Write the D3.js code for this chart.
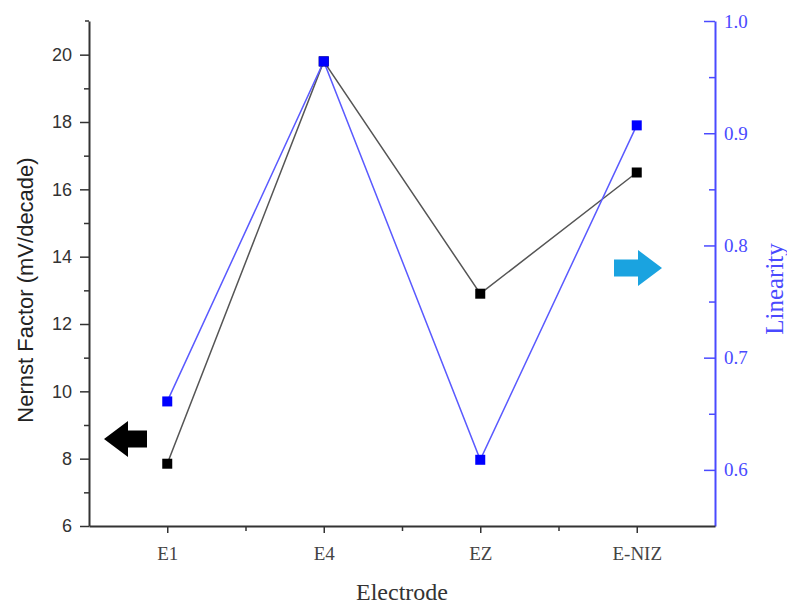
<!DOCTYPE html>
<html>
<head>
<meta charset="utf-8">
<script src="https://cdn.jsdelivr.net/npm/d3@7/dist/d3.min.js"></script>
<style>
  body { margin: 0; background: #fff; }
  svg { display: block; }
</style>
</head>
<body>
<script>
var electrodes = ['E1', 'E4', 'EZ', 'E-NIZ']
var nernst = [7.85, 19.8, 12.9, 16.5]
var linearity = [0.661, 0.964, 0.609, 0.907]
var leftTicks = [6, 8, 10, 12, 14, 16, 18, 20]
var rightTicks = [0.6, 0.7, 0.8, 0.9, 1.0]

var W = 787, H = 604
var plotL = 89, plotR = 715, plotT = 21, plotB = 526

var svg = d3.select('body').append('svg')
    .attr('width', W)
    .attr('height', H)

var x = d3.scalePoint().domain(electrodes).range([plotL, plotR]).padding(0.5)
var yL = d3.scaleLinear().domain([6, 21]).range([plotB, plotT])
var yR = d3.scaleLinear().domain([0.55, 1.0]).range([plotB, plotT])

var blue = '#4a4aff'
var axisGrey = '#333'
var sans = 'Liberation Sans, Arial, sans-serif'
var serif = 'Liberation Serif, Times New Roman, serif'

// left axis, minor ticks first
svg.append('g')
  .attr('transform', 'translate(' + plotL + ',0)')
  .call(d3.axisLeft(yL).tickValues(d3.range(7, 21, 2)).tickSize(5).tickFormat(''))
  .call(g => g.select('.domain').remove())
  .selectAll('line').attr('stroke', axisGrey).attr('stroke-width', 1.5)

var gl = svg.append('g')
  .attr('transform', 'translate(' + plotL + ',0)')
  .call(d3.axisLeft(yL).tickValues(leftTicks).tickSize(9).tickSizeOuter(0).tickPadding(8))
gl.select('.domain').attr('stroke', axisGrey).attr('stroke-width', 2)
gl.selectAll('line').attr('stroke', axisGrey).attr('stroke-width', 1.5)
gl.selectAll('text').attr('font-family', sans)
  .attr('font-size', 18).attr('fill', '#333')
// small cap at top of left axis
gl.append('line').attr('x1', -4).attr('x2', 0).attr('y1', plotT).attr('y2', plotT)
  .attr('stroke', axisGrey).attr('stroke-width', 1.5)

// right axis (ticks pointing inward)
svg.append('g')
  .attr('transform', 'translate(' + plotR + ',0)')
  .call(d3.axisLeft(yR).tickValues([0.65, 0.75, 0.85, 0.95]).tickSize(6).tickFormat(''))
  .call(g => g.select('.domain').remove())
  .selectAll('line').attr('stroke', blue).attr('stroke-width', 1.5)

var gr = svg.append('g')
  .attr('transform', 'translate(' + plotR + ',0)')
  .call(d3.axisLeft(yR).tickValues(rightTicks).tickSize(11).tickSizeOuter(0).tickFormat(d3.format('.1f')))
gr.select('.domain').attr('stroke', blue).attr('stroke-width', 2)
gr.selectAll('line').attr('stroke', blue).attr('stroke-width', 1.5)
gr.selectAll('text')
  .attr('x', 9).attr('text-anchor', 'start')
  .attr('font-family', serif)
  .attr('font-size', 19).attr('fill', blue)

// bottom axis
var xMinor = d3.scaleLinear().domain([0, 8]).range([plotL, plotR])
svg.append('g')
  .attr('transform', 'translate(0,' + plotB + ')')
  .call(d3.axisBottom(xMinor).tickValues([2, 4, 6]).tickSize(5).tickFormat(''))
  .call(g => g.select('.domain').remove())
  .selectAll('line').attr('stroke', axisGrey).attr('stroke-width', 1.5)

var gb = svg.append('g')
  .attr('transform', 'translate(0,' + plotB + ')')
  .call(d3.axisBottom(x).tickSize(7).tickSizeOuter(0).tickPadding(14))
gb.select('.domain').attr('stroke', axisGrey).attr('stroke-width', 2)
gb.selectAll('line').attr('stroke', axisGrey).attr('stroke-width', 1.5)
gb.selectAll('text').attr('font-family', serif)
  .attr('font-size', 19).attr('fill', '#444')

// axis titles
svg.append('text')
  .attr('transform', 'translate(33,290) rotate(-90)')
  .attr('text-anchor', 'middle')
  .attr('font-family', sans)
  .attr('font-size', 22).attr('fill', '#222')
  .text('Nernst Factor (mV/decade)')

svg.append('text')
  .attr('transform', 'translate(783,289) rotate(-90)')
  .attr('text-anchor', 'middle')
  .attr('font-family', serif)
  .attr('font-size', 25).attr('fill', blue)
  .text('Linearity')

svg.append('text')
  .attr('x', (plotL + plotR) / 2).attr('y', 600)
  .attr('text-anchor', 'middle')
  .attr('font-family', serif)
  .attr('font-size', 24).attr('fill', '#333')
  .text('Electrode')

// series
var lineL = d3.line().x((d, i) => x(electrodes[i])).y(d => yL(d))
var lineR = d3.line().x((d, i) => x(electrodes[i])).y(d => yR(d))

svg.append('path').datum(nernst)
  .attr('d', lineL).attr('fill', 'none')
  .attr('stroke', '#555').attr('stroke-width', 1.5)

svg.append('path').datum(linearity)
  .attr('d', lineR).attr('fill', 'none')
  .attr('stroke', '#5a5aff').attr('stroke-width', 1.5)

var s = 10
svg.selectAll('rect.nernst').data(nernst).enter().append('rect')
  .attr('class', 'nernst')
  .attr('x', (d, i) => x(electrodes[i]) - s / 2)
  .attr('y', d => yL(d) - s / 2)
  .attr('width', s).attr('height', s)
  .attr('fill', '#000')

svg.selectAll('rect.lin').data(linearity).enter().append('rect')
  .attr('class', 'lin')
  .attr('x', (d, i) => x(electrodes[i]) - s / 2)
  .attr('y', d => yR(d) - s / 2)
  .attr('width', s).attr('height', s)
  .attr('fill', '#0000ff')

// arrows pointing to each axis: tail x, tip x, centre y
function arrow(x0, x1, cy, headLen, color) {
  var dir = x1 > x0 ? 1 : -1
  var hx = x1 - dir * headLen
  var pts = [[x0, cy - 8.5], [hx, cy - 8.5], [hx, cy - 18], [x1, cy],
             [hx, cy + 18], [hx, cy + 8.5], [x0, cy + 8.5]]
  svg.append('polygon')
    .attr('points', pts.map(p => p.join(',')).join(' '))
    .attr('fill', color)
}
arrow(147, 104, 439, 24, '#000')
arrow(614, 662, 268, 24, '#1aa3e0')
</script>
</body>
</html>
